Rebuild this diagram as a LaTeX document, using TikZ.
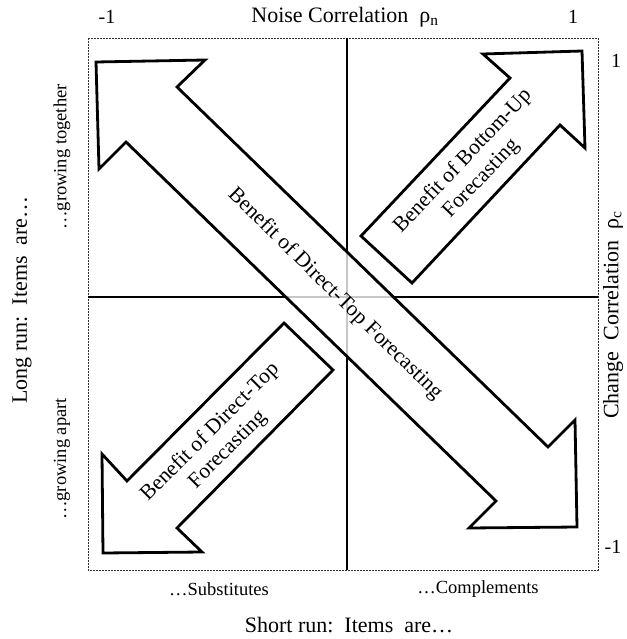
\documentclass[tikz,border=0pt]{standalone}
\usepackage{fontspec}
\setmainfont{Liberation Serif}
\usetikzlibrary{calc}
\tikzset{
    frameline/.style={draw=black!80,line width=0.8pt,dash pattern=on 2pt off 1pt},
    axisline/.style={draw=black,line width=1.1pt},
    fatarrow/.style={draw=black,line width=2.8pt,line join=miter,fill=white,fill opacity=0.78},
    axislabel/.style={font=\fontsize{22}{24}\selectfont,inner sep=0pt},
    ticklabel/.style={font=\fontsize{20}{22}\selectfont,inner sep=0pt},
    sidelabel/.style={font=\fontsize{18.5}{20}\selectfont,inner sep=0pt},
    arrowtext/.style={font=\fontsize{21.5}{25}\selectfont,align=center,inner sep=0pt,text opacity=1}
}

\begin{document}
\begin{tikzpicture}[x=1pt,y=-1pt]
\useasboundingbox (0,0) rectangle (626,639);

				% frame and quadrants
				\coordinate (nw) at (88,38);
				\coordinate (se) at (598,570);
				\coordinate (top) at (347,38);
				\coordinate (bot) at (347,570);
				\coordinate (lft) at (88,297);
				\coordinate (rgt) at (598,297);
				\draw[frameline] (nw) rectangle (se);
				\draw[axisline] (top) -- (bot);
				\draw[axisline] (lft) -- (rgt);
				
				% big two-headed arrow
				\draw[fatarrow] (96,62) -- (205,60) -- (177,87) -- (548,447) -- (575,420)
					-- (577,527) -- (469,528) -- (496,501) -- (126,142) -- (99,169) -- cycle;
				
				% bottom-up arrow
				\draw[fatarrow] (361,236) -- (510,78) -- (483,54) -- (582,51) -- (585,148)
					-- (560,125) -- (412,283) -- cycle;
				
				% direct-top arrow
				\draw[fatarrow] (284,323) -- (127,481) -- (102,454) -- (103,553) -- (202,552)
					-- (177,528) -- (333,370) -- cycle;
				
				% arrow texts
				\node[arrowtext,rotate=-44.5] (bigtxt) at (335,294) {Benefit of Direct-Top Forecasting};
				\node[arrowtext,rotate=46.5] (butxt) at (472,170) {Benefit of Bottom-Up\\Forecasting};
				\node[arrowtext,rotate=45] (dttxt) at (219,441) {Benefit of Direct-Top\\Forecasting};
				
				% axis labels
				\node[axislabel] (xtitle) at (345,17) {Noise Correlation\ \ ρ\textsubscript{n}};
				\node[ticklabel] (xmin) at (107,17) {-1};
				\node[ticklabel] (xmax) at (573,17) {1};
				\node[axislabel,rotate=90] (ytitle) at (613,315) {Change\ \ Correlation\ \ ρ\textsubscript{c}};
				\node[ticklabel] (ymax) at (616,61) {1};
				\node[ticklabel] (ymin) at (613,547) {-1};
				\node[axislabel] (shortrun) at (349,625) {Short run:\ \ Items\ \ are…};
				\node[axislabel,rotate=90] (longrun) at (22,300) {Long run:\ \ Items\ \ are…};
				\node[sidelabel] (subst) at (219,589) {…Substitutes};
				\node[sidelabel] (compl) at (478,589) {…Complements};
				\node[sidelabel,rotate=90] (together) at (62,157) {…growing together};
				\node[sidelabel,rotate=90] (apart) at (62,459) {…growing apart};
\end{tikzpicture}
\end{document}
